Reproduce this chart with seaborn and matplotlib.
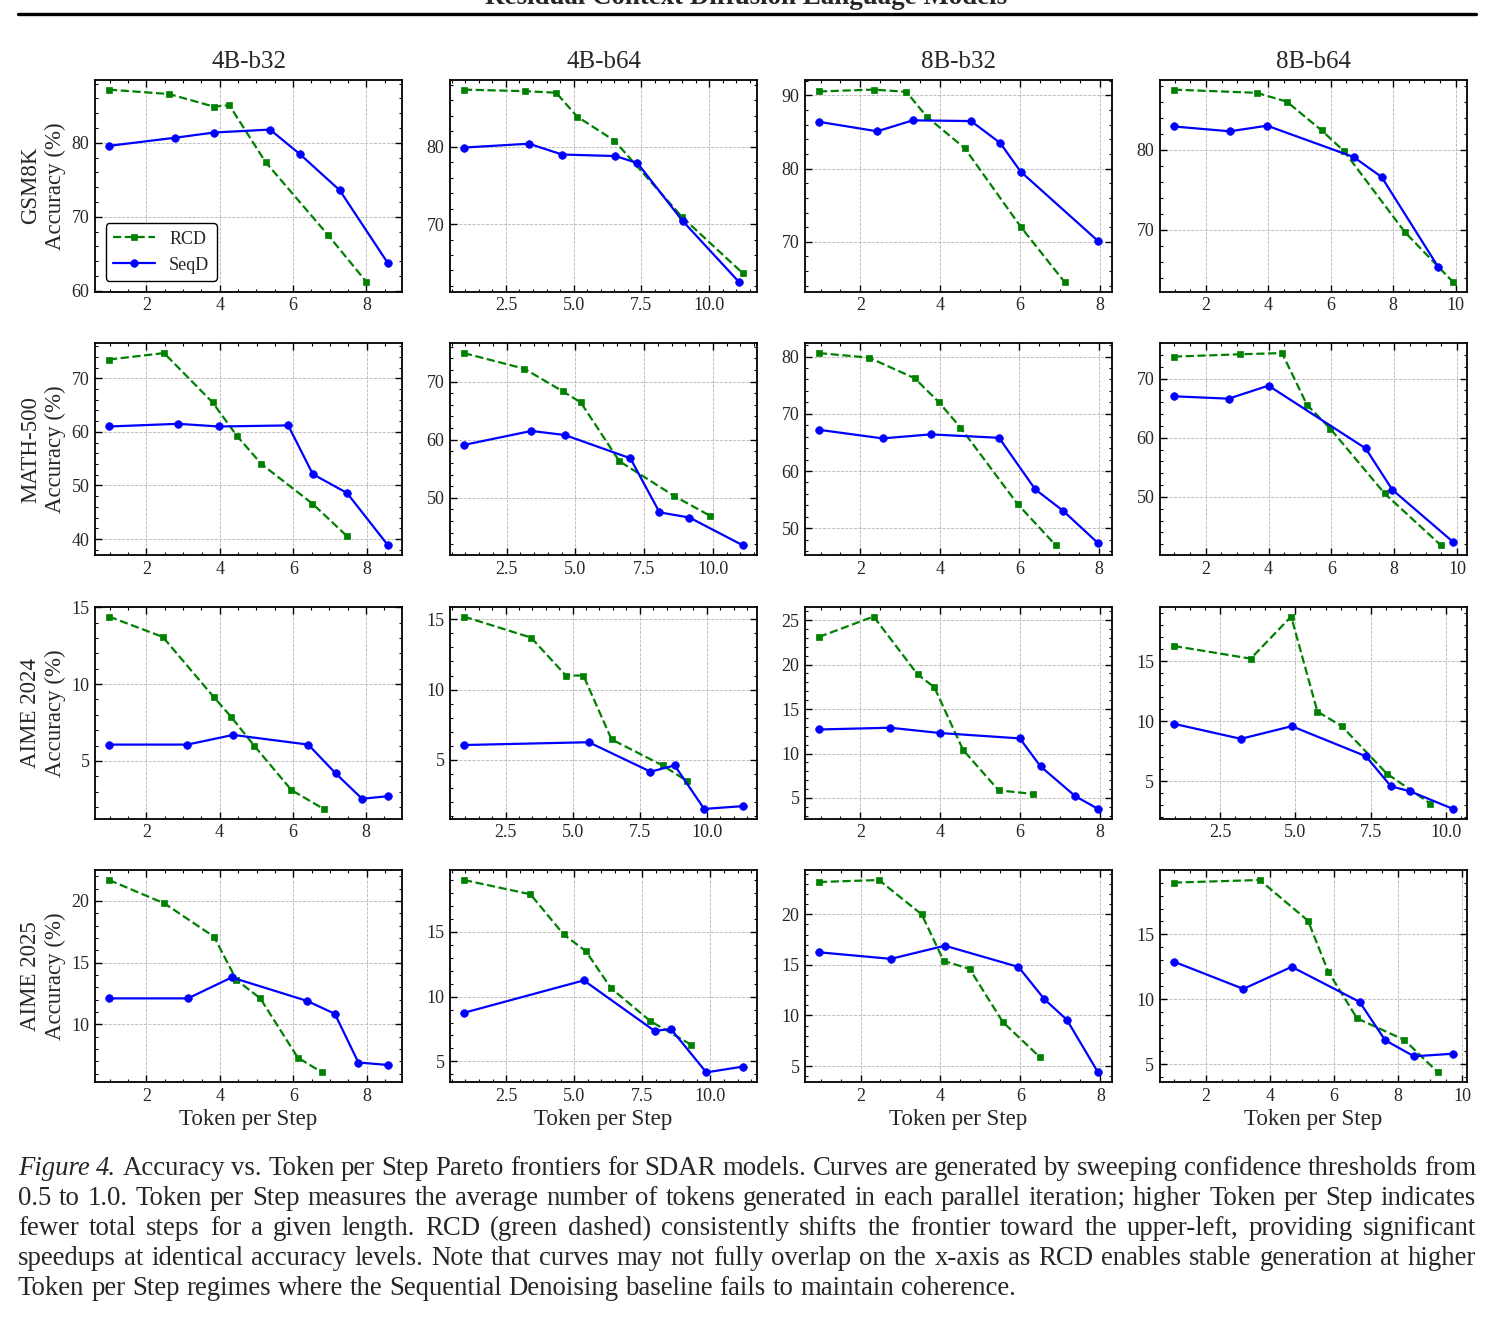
import matplotlib
matplotlib.use('Agg')
import matplotlib.pyplot as plt
import seaborn as sns
from matplotlib.ticker import MultipleLocator, AutoMinorLocator
from matplotlib.lines import Line2D

models = ['4B-b32', '4B-b64', '8B-b32', '8B-b64']
benchmarks = ['GSM8K', 'MATH-500', 'AIME 2024', 'AIME 2025']

# one inner list per model, in the order of `models`
gsm8k_rcd_x = [[0.98, 2.62, 3.84, 4.26, 5.25, 6.96, 8.0],
               [0.95, 3.2, 4.35, 5.13, 6.5, 9.0, 11.25],
               [0.96, 2.33, 3.15, 3.66, 4.61, 6.02, 7.11],
               [0.97, 3.62, 4.59, 5.71, 6.43, 8.38, 9.92]]
gsm8k_rcd_y = [[87.2, 86.6, 84.9, 85.1, 77.4, 67.5, 61.2],
               [87.4, 87.2, 87.0, 83.9, 80.8, 70.9, 63.6],
               [90.55, 90.8, 90.5, 87.1, 82.8, 72.0, 64.5],
               [87.5, 87.1, 86.0, 82.4, 79.8, 69.7, 63.5]]
gsm8k_seqd_x = [[0.98, 2.79, 3.84, 5.37, 6.18, 7.27, 8.59],
                [0.95, 3.35, 4.57, 6.54, 7.35, 9.02, 11.1],
                [0.96, 2.42, 3.31, 4.77, 5.5, 6.01, 7.95],
                [0.97, 2.76, 3.96, 6.73, 7.63, 9.44]]
gsm8k_seqd_y = [[79.6, 80.7, 81.4, 81.8, 78.5, 73.6, 63.7],
                [79.9, 80.4, 79.0, 78.8, 77.9, 70.4, 62.5],
                [86.4, 85.1, 86.6, 86.5, 83.5, 79.6, 70.1],
                [82.9, 82.3, 83.0, 79.1, 76.6, 65.4]]

math_rcd_x = [[0.98, 2.48, 3.8, 4.47, 5.13, 6.52, 7.45],
              [0.95, 3.15, 4.55, 5.2, 6.6, 8.6, 9.9],
              [0.96, 2.22, 3.37, 3.98, 4.52, 5.96, 6.92],
              [0.99, 3.1, 4.43, 5.22, 5.97, 7.69, 9.49]]
math_rcd_y = [[73.5, 74.7, 65.5, 59.2, 54.0, 46.6, 40.6],
              [74.9, 72.2, 68.3, 66.4, 56.3, 50.3, 46.9],
              [80.6, 79.8, 76.2, 72.0, 67.6, 54.2, 47.0],
              [73.7, 74.1, 74.3, 65.6, 61.5, 50.6, 41.8]]
math_seqd_x = [[0.98, 2.86, 3.97, 5.86, 6.53, 7.46, 8.58],
               [0.95, 3.4, 4.62, 7.0, 8.06, 9.15, 11.1],
               [0.96, 2.56, 3.77, 5.49, 6.4, 7.11, 7.98],
               [0.99, 2.73, 4.0, 7.09, 7.94, 9.87]]
math_seqd_y = [[61.0, 61.5, 61.0, 61.2, 52.1, 48.6, 38.8],
               [59.1, 61.5, 60.8, 56.8, 47.5, 46.6, 41.8],
               [67.2, 65.7, 66.4, 65.8, 56.8, 53.0, 47.4],
               [67.0, 66.6, 68.8, 58.2, 51.2, 42.4]]

aime24_rcd_x = [[0.98, 2.45, 3.85, 4.31, 4.94, 5.96, 6.84],
                [0.95, 3.45, 4.75, 5.4, 6.45, 8.35, 9.25],
                [0.96, 2.33, 3.43, 3.85, 4.57, 5.46, 6.33],
                [0.97, 3.52, 4.86, 5.73, 6.54, 8.03, 9.48]]
aime24_rcd_y = [[14.4, 13.07, 9.13, 7.88, 6.0, 3.1, 1.87],
                [15.2, 13.7, 11.0, 11.0, 6.45, 4.6, 3.5],
                [23.1, 25.4, 18.9, 17.45, 10.4, 5.86, 5.45],
                [16.25, 15.2, 18.7, 10.8, 9.58, 5.64, 3.14]]
aime24_seqd_x = [[0.98, 3.12, 4.37, 6.42, 7.17, 7.89, 8.6],
                 [0.95, 5.6, 7.9, 8.8, 9.9, 11.35],
                 [0.96, 2.74, 4.0, 5.99, 6.51, 7.38, 7.95],
                 [0.97, 3.19, 4.88, 7.34, 8.17, 8.8, 10.23]]
aime24_seqd_y = [[6.06, 6.06, 6.69, 6.06, 4.18, 2.53, 2.7],
                 [6.05, 6.25, 4.15, 4.6, 1.5, 1.7],
                 [12.7, 12.9, 12.3, 11.7, 8.55, 5.2, 3.77],
                 [9.78, 8.53, 9.58, 7.08, 4.58, 4.17, 2.7]]

aime25_rcd_x = [[0.98, 2.49, 3.84, 4.45, 5.1, 6.12, 6.78],
                [0.95, 3.39, 4.61, 5.43, 6.35, 7.8, 9.28],
                [0.96, 2.46, 3.53, 4.08, 4.73, 5.56, 6.49],
                [1.0, 3.68, 5.19, 5.82, 6.72, 8.2, 9.25]]
aime25_rcd_y = [[21.7, 19.8, 17.1, 13.6, 12.1, 7.3, 6.1],
                [19.0, 17.9, 14.8, 13.5, 10.65, 8.1, 6.3],
                [23.2, 23.4, 20.0, 15.4, 14.6, 9.34, 5.86],
                [19.0, 19.2, 16.06, 12.14, 8.53, 6.86, 4.36]]
aime25_seqd_x = [[0.98, 3.13, 4.32, 6.37, 7.13, 7.77, 8.58],
                 [0.95, 5.35, 7.95, 8.55, 9.85, 11.2],
                 [0.96, 2.76, 4.11, 5.95, 6.6, 7.16, 7.94],
                 [1.0, 3.17, 4.68, 6.8, 7.6, 8.5, 9.72]]
aime25_seqd_y = [[12.1, 12.1, 13.8, 11.9, 10.85, 6.9, 6.7],
                 [8.75, 11.25, 7.35, 7.5, 4.15, 4.6],
                 [16.25, 15.6, 16.9, 14.8, 11.6, 9.57, 4.37],
                 [12.9, 10.8, 12.5, 9.8, 6.84, 5.6, 5.8]]

rcd_x = [gsm8k_rcd_x, math_rcd_x, aime24_rcd_x, aime25_rcd_x]
rcd_y = [gsm8k_rcd_y, math_rcd_y, aime24_rcd_y, aime25_rcd_y]
seqd_x = [gsm8k_seqd_x, math_seqd_x, aime24_seqd_x, aime25_seqd_x]
seqd_y = [gsm8k_seqd_y, math_seqd_y, aime24_seqd_y, aime25_seqd_y]

# tick spacing per panel
x_steps = [[2, 2.5, 2, 2], [2, 2.5, 2, 2], [2, 2.5, 2, 2.5], [2, 2.5, 2, 2]]
y_steps = [10, 10, 5, 5]

header = 'Residual Context Diffusion Language Models'
caption_lines = [
    'Figure 4. Accuracy vs. Token per Step Pareto frontiers for SDAR models. Curves are generated by sweeping confidence thresholds from',
    '0.5 to 1.0. Token per Step measures the average number of tokens generated in each parallel iteration; higher Token per Step indicates',
    'fewer total steps for a given length.  RCD (green dashed) consistently shifts the frontier toward the upper-left, providing significant',
    'speedups at identical accuracy levels. Note that curves may not fully overlap on the x-axis as RCD enables stable generation at higher',
    'Token per Step regimes where the Sequential Denoising baseline fails to maintain coherence.',
]

sns.set_theme(style='ticks')
plt.rcParams['font.family'] = ['Liberation Serif', 'DejaVu Serif']
plt.rcParams['axes.edgecolor'] = 'black'
plt.rcParams['axes.linewidth'] = 1.3

W, H = 1492, 1317
fig, axes = plt.subplots(4, 4, figsize=(W / 100, H / 100), dpi=100)
fig.patch.set_facecolor('white')
fig.subplots_adjust(left=95 / W, right=1467 / W, top=1 - 80 / H, bottom=1 - 1082 / H,
                    wspace=0.156, hspace=0.245)

for i, bench in enumerate(benchmarks):
    for j, model in enumerate(models):
        ax = axes[i, j]
        sns.lineplot(x=rcd_x[i][j], y=rcd_y[i][j], ax=ax, sort=False, color='green',
                     linestyle='--', linewidth=1.6, marker='s', markersize=5,
                     markeredgecolor='green', markeredgewidth=0.5, label='RCD')
        sns.lineplot(x=seqd_x[i][j], y=seqd_y[i][j], ax=ax, sort=False, color='blue',
                     linestyle='-', linewidth=1.6, marker='o', markersize=5.5,
                     markeredgecolor='blue', markeredgewidth=0.5, label='SeqD')
        if ax.get_legend() is not None:
            ax.get_legend().remove()

        ax.xaxis.set_major_locator(MultipleLocator(x_steps[i][j]))
        ax.yaxis.set_major_locator(MultipleLocator(y_steps[i]))
        ax.xaxis.set_minor_locator(AutoMinorLocator())
        ax.yaxis.set_minor_locator(AutoMinorLocator())
        ax.tick_params(which='both', direction='in', top=True, right=True,
                       labelsize=13, pad=4, color='black')
        ax.tick_params(which='major', length=5, width=1.0)
        ax.tick_params(which='minor', length=2.5, width=0.8)
        ax.grid(True, which='major', linestyle='--', linewidth=0.6, color='#b5b5b5')
        ax.set_axisbelow(True)
        ax.set_xlabel('')
        ax.set_ylabel('')

        if i == 0:
            ax.set_title(model, fontsize=18, pad=9)
        if j == 0:
            ax.set_ylabel(f'{bench}\nAccuracy (%)', fontsize=16.5, labelpad=4)
        if i == 3:
            ax.set_xlabel('Token per Step', fontsize=16.5, labelpad=3)

leg = axes[0, 0].legend(loc='lower left', fontsize=13, frameon=True, fancybox=True,
                        edgecolor='black', framealpha=1, handlelength=2.3,
                        borderaxespad=0.6)
leg.get_frame().set_linewidth(1.0)

# running header of the paper page (cut by the top edge, as on the page)
fig.text(0.5, 1 - 4 / H, header, ha='center', va='baseline', fontsize=19.4, fontweight='bold')
fig.add_artist(Line2D([18 / W, 1476 / W], [1 - 14 / H, 1 - 14 / H], transform=fig.transFigure,
                      color='black', linewidth=2.4))

# justified caption
r = fig.canvas.get_renderer()
left_px, right_px = 18, 1476
cap_size = 19.3
sp = fig.text(0, 0, 'a a', fontsize=cap_size)
sp2 = fig.text(0, 0, 'aa', fontsize=cap_size)
space_w = sp.get_window_extent(renderer=r).width - sp2.get_window_extent(renderer=r).width
sp.remove()
sp2.remove()
for k, line in enumerate(caption_lines):
    y = 1 - (1175 + 30 * k) / H
    words = line.split()
    texts = []
    for n, w in enumerate(words):
        style = 'italic' if (k == 0 and n < 2) else 'normal'
        texts.append(fig.text(0, y, w, fontsize=cap_size, style=style, va='baseline'))
    widths = [t.get_window_extent(renderer=r).width for t in texts]
    if k < len(caption_lines) - 1:
        gap = (right_px - left_px - sum(widths)) / (len(words) - 1)
    else:
        gap = space_w
    x = left_px
    for t, w in zip(texts, widths):
        t.set_x(x / W)
        x += w + gap

fig.savefig('out.png', dpi=100, facecolor='white')
